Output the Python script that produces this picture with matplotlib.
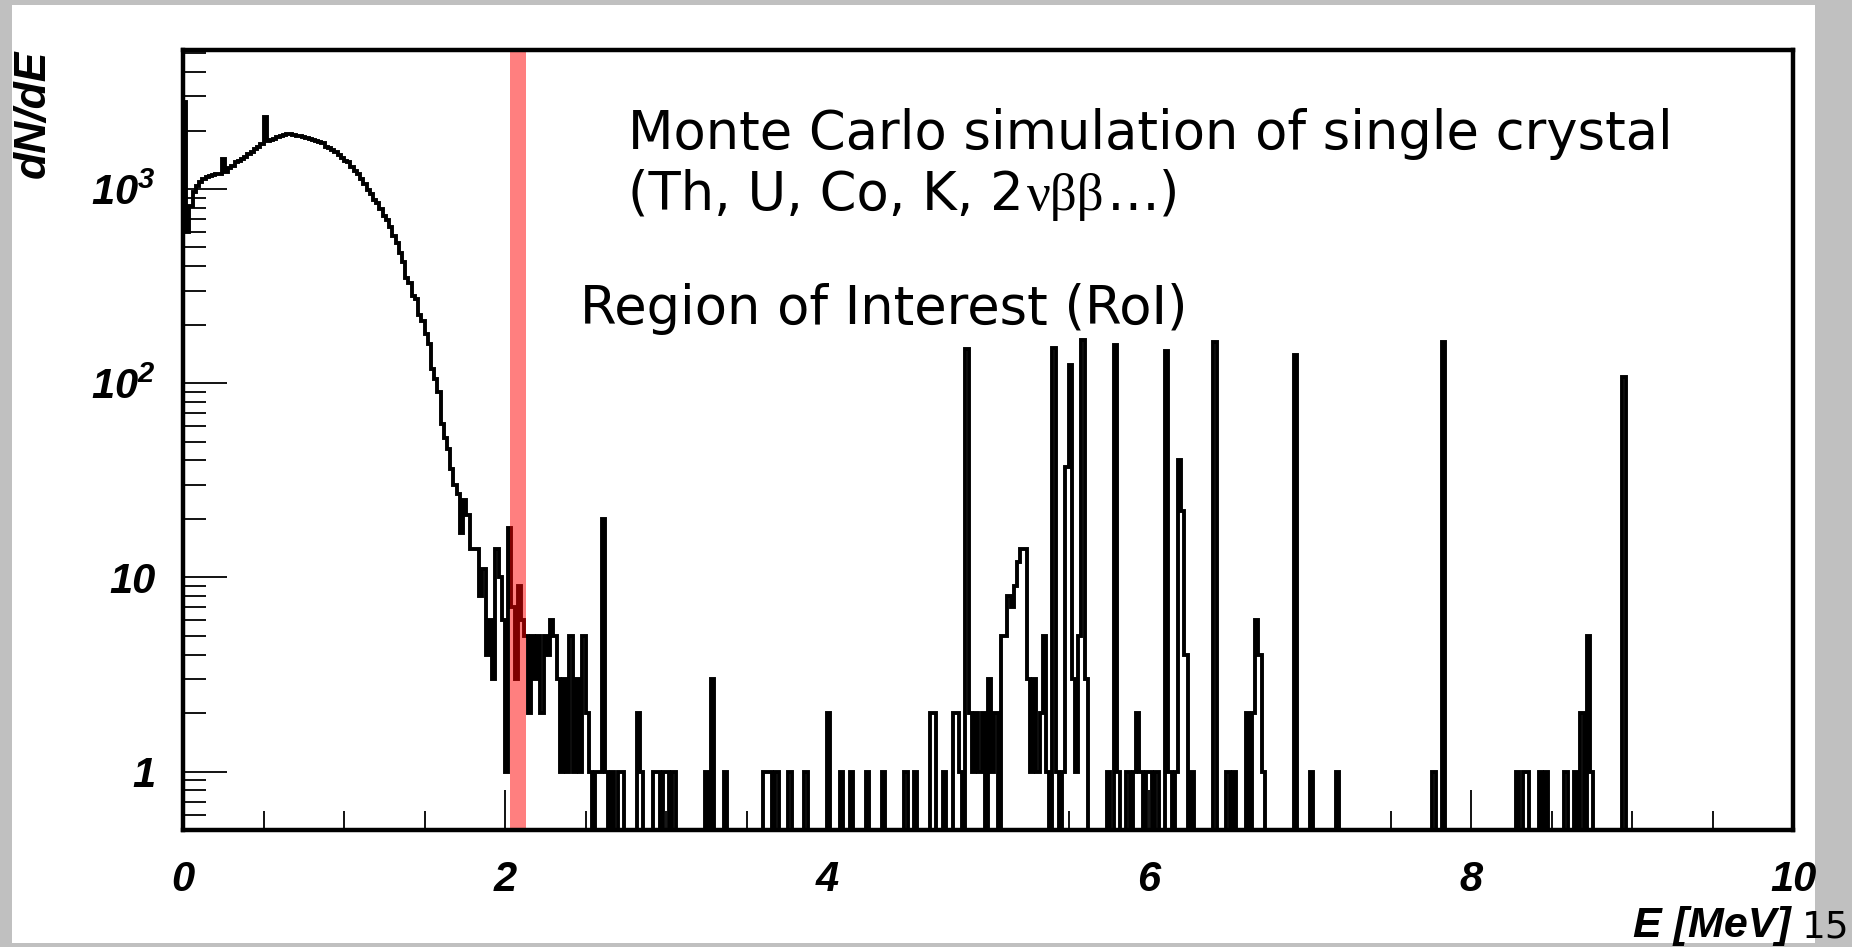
import numpy as np
import matplotlib.pyplot as plt
from matplotlib.patches import Rectangle
from matplotlib.ticker import FixedLocator, FixedFormatter, NullFormatter

plt.rcParams['font.family'] = ['Liberation Sans', 'DejaVu Sans']
plt.rcParams['font.weight'] = 'bold'
plt.rcParams['font.style'] = 'italic'
plt.rcParams['mathtext.fontset'] = 'custom'
plt.rcParams['mathtext.rm'] = 'Liberation Sans:italic:bold'
plt.rcParams['mathtext.it'] = 'Liberation Sans:italic:bold'
plt.rcParams['mathtext.bf'] = 'Liberation Sans:italic:bold'

BIN_WIDTH = 0.02  # MeV

# counts per 20 keV bin, 0.00 - 2.52 MeV
continuum_counts = [
    2800, 600, 820, 960, 1040, 1090, 1120, 1150, 1170, 1180,
    1200, 1190, 1420, 1230, 1290, 1320, 1370, 1400, 1430, 1460,
    1510, 1560, 1600, 1650, 1700, 2350, 1760, 1790, 1820, 1850,
    1880, 1900, 1930, 1920, 1900, 1870, 1880, 1850, 1840, 1810,
    1790, 1760, 1740, 1720, 1650, 1630, 1580, 1550, 1490, 1450,
    1400, 1370, 1300, 1240, 1190, 1120, 1060, 990, 940, 880,
    845, 790, 730, 690, 640, 570, 530, 470, 420, 350,
    330, 280, 270, 225, 210, 180, 160, 118, 105, 90,
    62, 52, 46, 36, 30, 27, 17, 25, 21, 14,
    14, 14, 8, 11, 4, 6, 3, 14, 10, 6,
    1, 18, 7, 3, 9, 6, 5, 2, 5, 3,
    5, 2, 5, 4, 6, 5, 3, 1, 3, 1,
    5, 1, 3, 1, 5, 2,
]

# sparse bins above 2.52 MeV: lower bin edge [MeV] and counts
tail_energies = [
    2.52, 2.56, 2.58, 2.60, 2.62, 2.66, 2.70, 2.72,
    2.82, 2.84, 2.92, 2.94, 2.98, 3.00, 3.04,
    3.24, 3.28, 3.36, 3.60, 3.62, 3.64, 3.68, 3.76, 3.86,
    4.00, 4.08, 4.14, 4.24, 4.34, 4.48, 4.54,
    4.64, 4.66, 4.72, 4.78, 4.80, 4.82, 4.86, 4.88, 4.90, 4.92, 4.94,
    4.96, 5.00, 5.02, 5.04, 5.08, 5.10, 5.12, 5.14, 5.16, 5.18,
    5.20, 5.22, 5.24, 5.26, 5.28, 5.30, 5.32, 5.34, 5.36,
    5.40, 5.42, 5.46, 5.48, 5.50, 5.52, 5.54, 5.56, 5.58, 5.60,
    5.74, 5.78, 5.80, 5.86, 5.90, 5.92, 5.94, 5.98, 6.00, 6.04,
    6.10, 6.12, 6.16, 6.18, 6.20, 6.22, 6.26,
    6.40, 6.48, 6.52, 6.60, 6.64, 6.66, 6.68, 6.70,
    6.90, 7.00, 7.16, 7.76, 7.82,
    8.28, 8.32, 8.34, 8.42, 8.46, 8.58, 8.64, 8.68, 8.72, 8.74,
    8.94,
]
tail_counts = [
    1, 1, 1, 20, 1, 1, 1, 1,
    2, 1, 1, 1, 1, 1, 1,
    1, 3, 1, 1, 1, 1, 1, 1, 1,
    2, 1, 1, 1, 1, 1, 1,
    2, 2, 1, 2, 2, 1, 150, 2, 1, 2, 1,
    2, 3, 1, 2, 5, 5, 8, 7, 9, 12,
    14, 14, 3, 1, 3, 1, 2, 5, 1,
    152, 1, 1, 37, 124, 3, 1, 5, 167, 3,
    1, 158, 1, 1, 1, 2, 1, 1, 1, 1,
    147, 1, 1, 40, 22, 4, 1,
    163, 1, 1, 2, 2, 6, 4, 1,
    140, 1, 1, 1, 163,
    1, 1, 1, 1, 1, 1, 1, 2, 5, 1,
    107,
]

# region of interest band [MeV]
roi_low, roi_high = 2.033, 2.128

x_ticks = [0, 2, 4, 6, 8, 10]
x_ticklabels = ['0', '2', '4', '6', '8', '10']
y_ticks = [1, 10, 100, 1000]
y_ticklabels = ['1', '10', r'$10^{2}$', r'$10^{3}$']

edges = np.round(np.arange(0, 10 + BIN_WIDTH / 2, BIN_WIDTH), 4)
counts = np.zeros(len(edges) - 1)
counts[:len(continuum_counts)] = continuum_counts
for e, c in zip(tail_energies, tail_counts):
    counts[int(round(e / BIN_WIDTH))] = c

W, H = 1852, 947
fig = plt.figure(figsize=(W / 100, H / 100), dpi=100, facecolor='#c0c0c0')
fig.add_artist(Rectangle((12 / W, 1 - 943 / H), (1815 - 12) / W, (943 - 5) / H,
                         transform=fig.transFigure, facecolor='white',
                         edgecolor='none', zorder=-1))

ax = fig.add_axes([183 / W, 1 - 830 / H, (1793 - 183) / W, (830 - 50) / H])
ymin, ymax = 0.5, 5200

# empty bins sit on the lower edge of the log axis
ax.stairs(np.where(counts > 0, counts, ymin), edges, baseline=ymin,
          color='black', lw=2.8, zorder=2)
ax.axvspan(roi_low, roi_high, color='red', alpha=0.5, lw=0, zorder=3)

ax.set_yscale('log')
ax.set_xlim(0, 10)
ax.set_ylim(ymin, ymax)

ax.xaxis.set_major_locator(FixedLocator(x_ticks))
ax.xaxis.set_major_formatter(FixedFormatter(x_ticklabels))
ax.xaxis.set_minor_locator(FixedLocator(np.arange(0, 10.01, 0.5)))
ax.xaxis.set_minor_formatter(NullFormatter())

y_minor = [m * 10.0 ** k for k in range(-1, 4) for m in range(2, 10)]
y_minor = [v for v in y_minor if ymin <= v <= ymax]
ax.yaxis.set_major_locator(FixedLocator(y_ticks))
ax.yaxis.set_major_formatter(FixedFormatter(y_ticklabels))
ax.yaxis.set_minor_locator(FixedLocator(y_minor))
ax.yaxis.set_minor_formatter(NullFormatter())

ax.tick_params(axis='both', which='both', direction='in', top=False,
               right=False, width=1.3, color='black', labelsize=30)
ax.tick_params(axis='x', which='major', length=29, pad=21.5)
ax.tick_params(axis='x', which='minor', length=13.7)
ax.tick_params(axis='y', which='major', length=32, pad=19.5)
ax.tick_params(axis='y', which='minor', length=16.5)

for side in ax.spines.values():
    side.set_linewidth(3.2)
    side.set_zorder(4)

fig.text(33 / W, 1 - 50 / H, 'dN/dE', rotation=90, ha='center', va='top',
         fontsize=32)
fig.text(1791 / W, 1 - 937 / H, 'E [MeV]', ha='right', va='baseline',
         fontsize=31)

note = dict(family='DejaVu Sans', weight='normal', style='normal',
            fontsize=38, va='baseline')
fig.text(628 / W, 1 - 149 / H, 'Monte Carlo simulation of single crystal', **note)

renderer = fig.canvas.get_renderer()
t1 = fig.text(628 / W, 1 - 210 / H, '(Th, U, Co, K, 2', **note)
x1 = t1.get_window_extent(renderer).x1
greek = dict(note, family='Liberation Serif')
t2 = fig.text(x1 / W + 0.002, 1 - 210 / H, '\u03bd\u03b2\u03b2', **greek)
x2 = t2.get_window_extent(renderer).x1
fig.text(x2 / W + 0.001, 1 - 210 / H, '\u2026)', **note)

fig.text(580 / W, 1 - 324 / H, 'Region of Interest (RoI)', **note)

# slide page number
fig.text(1849 / W, 1 - 937 / H, '15', family='DejaVu Sans', weight='normal',
         style='normal', fontsize=27, ha='right', va='baseline')

fig.savefig('out.png', dpi=100, facecolor=fig.get_facecolor())
